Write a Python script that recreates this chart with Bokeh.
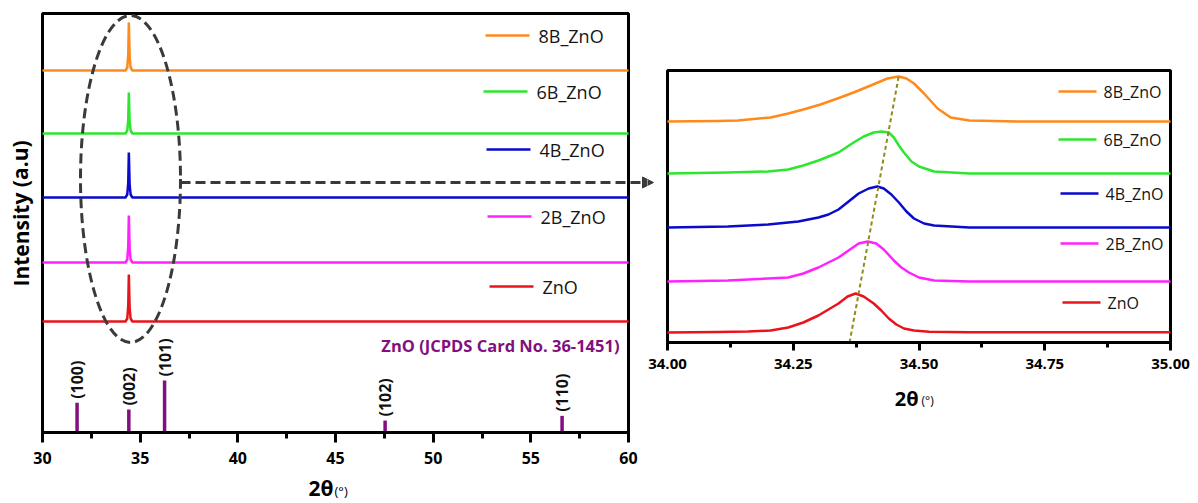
from bokeh.plotting import figure
from bokeh.models import Range1d, FixedTicker, PrintfTickFormatter
from bokeh.layouts import row
from bokeh.embed import file_html
from bokeh.resources import INLINE
from bokeh.core.properties import value

# ---------------- data ----------------
samples = ["ZnO", "2B_ZnO", "4B_ZnO", "6B_ZnO", "8B_ZnO"]
colors = ["#e8141c", "#ff22ff", "#0a0acc", "#2ee62e", "#ff8a1c"]

# Left panel: full scan 30-60 deg (intensity above each trace's own baseline, a.u.)
wide_x = [30.0, 34.25, 34.34, 34.39, 34.42, 34.46, 34.51, 34.60, 60.0]
wide_zno = [0, 0, 3, 16, 47, 14, 3, 0, 0]
wide_2b = [0, 0, 3, 16, 47, 14, 3, 0, 0]
wide_4b = [0, 0, 3, 15, 45, 13, 3, 0, 0]
wide_6b = [0, 0, 3, 14, 41, 12, 3, 0, 0]
wide_8b = [0, 0, 3, 16, 48, 14, 3, 0, 0]
wide_offsets = [111, 170, 235, 299, 362]

# JCPDS 36-1451 reference lines
hkl = ["(100)", "(002)", "(101)", "(102)", "(110)"]
ref_2theta = [31.77, 34.42, 36.25, 47.54, 56.60]
ref_int = [57, 44, 100, 23, 32]

# Right panel: zoom 34-35 deg
zno_x = [34.00, 34.10, 34.16, 34.205, 34.24, 34.27, 34.30, 34.32, 34.34, 34.358, 34.374, 34.39,
         34.41, 34.425, 34.44, 34.455, 34.47, 34.49, 34.52, 34.60, 34.80, 35.00]
zno_y = [0, 0.5, 1, 2, 5, 10, 17, 23, 29, 36, 39, 36, 29, 22, 14, 8, 4, 2, 0.8, 0.3, 0.3, 0.3]
b2_x = [34.00, 34.12, 34.20, 34.24, 34.27, 34.30, 34.32, 34.34, 34.36, 34.38, 34.398, 34.415,
        34.43, 34.45, 34.465, 34.48, 34.50, 34.53, 34.60, 35.00]
b2_y = [0, 1, 3, 4, 8, 14, 19, 24, 31, 38, 40, 38, 32, 21, 14, 9, 4, 1, 0, 0]
b4_x = [34.00, 34.12, 34.20, 34.26, 34.30, 34.32, 34.34, 34.36, 34.38, 34.40, 34.417, 34.43,
        34.445, 34.46, 34.475, 34.49, 34.51, 34.53, 34.60, 35.00]
b4_y = [0, 1, 3, 6, 10, 13, 18, 26, 34, 39, 41, 39, 33, 25, 16, 9, 4, 2, 0, 0]
b6_x = [34.00, 34.12, 34.20, 34.24, 34.27, 34.30, 34.34, 34.37, 34.39, 34.41, 34.425, 34.44,
        34.45, 34.46, 34.47, 34.485, 34.50, 34.53, 34.60, 35.00]
b6_y = [0, 1, 2, 4, 8, 13, 21, 31, 37, 41, 42, 41, 36, 28, 21, 12, 7, 2, 0, 0]
b8_x = [34.00, 34.10, 34.14, 34.205, 34.24, 34.27, 34.304, 34.338, 34.37, 34.404, 34.437, 34.46,
        34.475, 34.49, 34.51, 34.537, 34.563, 34.60, 34.70, 35.00]
b8_y = [0, 0.5, 1, 4, 8, 12, 17, 23, 29, 36, 43, 45, 43, 38, 28, 13, 4, 1, 0, 0]
zoom_offsets = [10, 61, 115, 169, 221]

# peak-shift guide line (2theta at bottom / top of panel)
guide_x = [34.362, 34.46]
guide_y = [0, 267]

wide_sets = [wide_zno, wide_2b, wide_4b, wide_6b, wide_8b]
zoom_sets = [(zno_x, zno_y), (b2_x, b2_y), (b4_x, b4_y), (b6_x, b6_y), (b8_x, b8_y)]

FONT = "Open Sans"
DASH_COL = "#3a3a3a"
PURPLE = "#80107f"

# ---------------- page layout (pixels) ----------------
H = 503
SPLIT = 647                      # where the two canvases meet
L_X0, L_X1, L_TOP, L_BOT = 42, 628, 13, 432
R_X0, R_X1, R_TOP, R_BOT = 667, 1170, 70, 342
LS = (L_X1 - L_X0) / 30.0        # px per degree, left
RS = (R_X1 - R_X0) / 1.0         # px per degree, right


def lx(px):
    return 30 + (px - L_X0) / LS


def ly(py):
    return L_BOT - py


def rx(px):
    return 34 + (px - R_X0) / RS


def ry(py):
    return R_BOT - py


def style_xaxis(ax, size, standoff, tick_out, minor_out):
    ax.axis_line_width = 3
    ax.axis_line_color = "black"
    ax.major_tick_line_width = 3
    ax.major_tick_out = tick_out
    ax.major_tick_in = 0
    ax.minor_tick_line_width = 3
    ax.minor_tick_out = minor_out
    ax.minor_tick_in = 0
    ax.major_label_text_font = FONT
    ax.major_label_text_font_style = "bold"
    ax.major_label_text_font_size = size
    ax.major_label_text_color = "black"
    ax.major_label_standoff = standoff


def base_fig(w, xr, yr):
    p = figure(width=w, height=H, x_range=xr, y_range=yr, output_backend="svg",
               toolbar_location=None, min_border=0, min_border_left=0, min_border_right=0,
               min_border_top=0, min_border_bottom=0)
    p.title.visible = False
    p.grid.visible = False
    p.outline_line_color = None
    p.yaxis.visible = False
    p.background_fill_color = "white"
    p.border_fill_color = "white"
    return p


def txt(p, x, y, s, size, bold=False, align="left", color="#151515", angle=0.0, baseline="middle"):
    p.text(x=[x], y=[y], text=[s], angle=angle, text_align=align, text_baseline=baseline,
           text_font=value(FONT), text_font_style="bold" if bold else "normal",
           text_font_size=size, text_color=color)


# ---------------- left figure ----------------
p1 = base_fig(SPLIT, Range1d(lx(0), lx(SPLIT)), Range1d(ly(H), ly(0)))
p1.quad(left=[30], right=[60], bottom=[0], top=[ly(L_TOP)], fill_color=None,
        line_color="black", line_width=3)
p1.xaxis.fixed_location = 0
p1.xaxis.bounds = (30, 60)
p1.xaxis.ticker = FixedTicker(ticks=[30, 35, 40, 45, 50, 55, 60],
                              minor_ticks=[32.5, 37.5, 42.5, 47.5, 52.5, 57.5])
style_xaxis(p1.xaxis[0], "16px", 9, 10, 6)

for vals, off, col in zip(wide_sets, wide_offsets, colors):
    p1.line(wide_x, [v + off for v in vals], line_color=col, line_width=2.5)

# JCPDS sticks and labels
stick_scale = 0.52
p1.segment(x0=ref_2theta, y0=[0] * len(ref_2theta), x1=ref_2theta,
           y1=[i * stick_scale for i in ref_int], line_color=PURPLE, line_width=3.5)
p1.text(x=ref_2theta, y=[i * stick_scale + 4 for i in ref_int], text=hkl, angle=1.5708,
        text_align="left", text_baseline="middle", text_font=value(FONT),
        text_font_style="bold", text_font_size="16px", text_color="#111111")
txt(p1, lx(619), ly(345), "ZnO (JCPDS Card No. 36-1451)", "16.5px", bold=True,
    align="right", color=PURPLE)

# left legend (line sample + label), page-pixel anchors
left_leg_y = [286, 216, 149, 91, 35]
left_leg_x0 = [489, 487, 486, 483, 485]
for name, col, yy, x0 in zip(samples, colors, left_leg_y, left_leg_x0):
    p1.segment(x0=[lx(x0)], y0=[ly(yy)], x1=[lx(x0 + 44)], y1=[ly(yy)],
               line_color=col, line_width=2.5)
    txt(p1, lx(x0 + 53), ly(yy), name, "18px")

# axis titles
txt(p1, lx(20), ly(213), "Intensity (a.u)", "21px", bold=True, align="center",
    color="black", angle=1.5708)
txt(p1, lx(333), ly(487), "2θ", "21px", bold=True, align="right", color="black")
txt(p1, lx(334), ly(490), "(°)", "13px", align="left", color="black")

# dashed ellipse and arrow
p1.ellipse(x=[lx(130)], y=[ly(178.5)], width=[100 / LS], height=[327],
           fill_color=None, line_color=DASH_COL, line_width=3, line_dash="10 5")
p1.line([lx(180), lx(650)], [ly(182), ly(182)], line_color=DASH_COL, line_width=3,
        line_dash="10 5")
p1.patch([lx(642), lx(653), lx(642)], [ly(176.5), ly(182), ly(187.5)],
         fill_color=DASH_COL, line_color=DASH_COL)

# ---------------- right figure ----------------
p2 = base_fig(1198 - SPLIT, Range1d(rx(SPLIT), rx(1198)), Range1d(ry(H), ry(0)))
p2.quad(left=[34], right=[35], bottom=[0], top=[ry(R_TOP)], fill_color=None,
        line_color="black", line_width=3)
p2.xaxis.fixed_location = 0
p2.xaxis.bounds = (34, 35)
p2.xaxis.ticker = FixedTicker(ticks=[34.0, 34.25, 34.5, 34.75, 35.0],
                              minor_ticks=[34.125, 34.375, 34.625, 34.875])
p2.xaxis.formatter = PrintfTickFormatter(format="%.2f")
style_xaxis(p2.xaxis[0], "15px", 8, 8, 5)

for (xs, ys), off, col in zip(zoom_sets, zoom_offsets, colors):
    p2.line(xs, [v + off for v in ys], line_color=col, line_width=2.5, line_join="round")

p2.line(guide_x, guide_y, line_color="#8c8c1a", line_width=2, line_dash="4 3")

right_leg_y = [302, 243, 193, 139, 91]
right_leg_x0 = [1062, 1060, 1060, 1058, 1058]
for name, col, yy, x0 in zip(samples, colors, right_leg_y, right_leg_x0):
    p2.segment(x0=[rx(x0)], y0=[ry(yy)], x1=[rx(x0 + 38)], y1=[ry(yy)],
               line_color=col, line_width=2.5)
    txt(p2, rx(x0 + 45), ry(yy), name, "16px")

txt(p2, rx(918), ry(398), "2θ", "20px", bold=True, align="right", color="black")
txt(p2, rx(921), ry(400), "(°)", "12px", align="left", color="black")

# arrow head entering the zoom panel (continues from left canvas)
p2.line([rx(640), rx(644)], [ry(182), ry(182)], line_color=DASH_COL, line_width=3)
p2.patch([rx(642), rx(653), rx(642)], [ry(176.5), ry(182), ry(187.5)],
         fill_color=DASH_COL, line_color=DASH_COL)

layout = row(p1, p2)
open("out.html", "w").write(file_html(layout, INLINE))
